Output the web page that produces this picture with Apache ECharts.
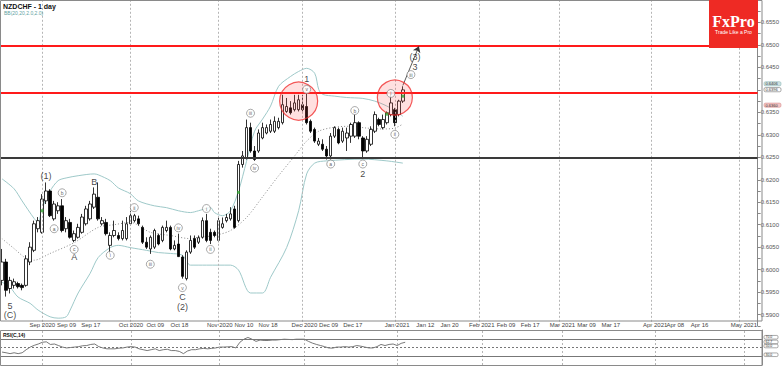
<!DOCTYPE html>
<html><head><meta charset="utf-8">
<script src="https://cdn.jsdelivr.net/npm/echarts@6/dist/echarts.min.js"></script>
<style>html,body{margin:0;padding:0;background:#fff}#c{width:782px;height:366px}</style>
</head><body><div id="c"></div>
<script>
// ---------- DATA ----------
const firstDay = '2020-08-18';
const lastDay = '2021-05-07';
const tickDates = ['2020-09-01','2020-09-09','2020-09-17','2020-10-01','2020-10-09','2020-10-19','2020-11-02','2020-11-10','2020-11-18','2020-12-01','2020-12-09','2020-12-17','2021-01-01','2021-01-12','2021-01-20','2021-02-01','2021-02-09','2021-02-17','2021-03-01','2021-03-09','2021-03-17','2021-04-01','2021-04-08','2021-04-16','2021-05-03'];
const tickTexts = ['Sep 2020','Sep 09','Sep 17','Oct 2020','Oct 09','Oct 18','Nov 2020','Nov 10','Nov 18','Dec 2020','Dec 09','Dec 17','Jan 2021','Jan 12','Jan 20','Feb 2021','Feb 09','Feb 17','Mar 2021','Mar 09','Mar 17','Apr 2021','Apr 08','Apr 16','May 2021'];
const monthStarts = ['2020-09-01','2020-10-01','2020-11-02','2020-12-01','2021-01-01','2021-02-01','2021-03-01','2021-04-01','2021-05-03'];

const opens = [0.5976,0.6017,0.5958,0.5965,0.5969,0.5965,0.5965,0.6017,0.6043,0.6091,0.6083,0.6153,0.6175,0.6113,0.6131,0.6142,0.6091,0.6105,0.6065,0.6072,0.6083,0.6102,0.6113,0.6139,0.6161,0.6102,0.6105,0.6054,0.6076,0.6076,0.6069,0.6069,
0.6102,0.6109,0.6113,0.6094,0.6061,0.6046,0.6050,0.6076,0.6065,0.6087,0.6094,0.6046,0.6057,0.6028,0.5980,0.6039,0.6069,0.6061,0.6072,0.6109,0.6083,0.6083,0.6065,0.6094,0.6109,
0.6113,0.6135,0.6109,0.6234,0.6249,0.6316,0.6264,0.6264,0.6293,0.6304,0.6308,0.6308,0.6316,0.6327,0.6352,0.6360,0.6356,0.6356,0.6367,0.6363,0.6330,0.6312,0.6279,0.6279,0.6268,0.6253,0.6297,0.6312,0.6286,0.6293,0.6297,0.6297,0.6327,0.6293,0.6264,0.6279,0.6308,0.6334,0.6316,0.6327,0.6345,0.6356,0.6345,0.6375];
const highs = [0.6046,0.6024,0.5984,0.5980,0.5973,0.5969,0.6032,0.6061,0.6109,0.6117,0.6168,0.6194,0.6179,0.6153,0.6150,0.6157,0.6117,0.6113,0.6087,0.6102,0.6124,0.6142,0.6153,0.6183,0.6194,0.6117,0.6113,0.6083,0.6109,0.6083,0.6109,0.6117,
0.6131,0.6124,0.6120,0.6098,0.6072,0.6076,0.6091,0.6080,0.6098,0.6109,0.6098,0.6065,0.6080,0.6032,0.6043,0.6076,0.6076,0.6076,0.6116,0.6124,0.6091,0.6087,0.6116,0.6116,0.6124,
0.6139,0.6142,0.6242,0.6264,0.6334,0.6327,0.6275,0.6312,0.6327,0.6323,0.6334,0.6341,0.6338,0.6389,0.6382,0.6375,0.6389,0.6389,0.6389,0.6393,0.6334,0.6316,0.6293,0.6290,0.6275,0.6304,0.6319,0.6316,0.6316,0.6316,0.6327,0.6345,0.6330,0.6297,0.6297,0.6319,0.6352,0.6338,0.6345,0.6352,0.6389,0.6360,0.6378,0.6408];
const lows = [0.5965,0.5940,0.5947,0.5958,0.5958,0.5954,0.5962,0.6010,0.6039,0.6083,0.6080,0.6146,0.6117,0.6109,0.6124,0.6083,0.6083,0.6069,0.6061,0.6069,0.6080,0.6098,0.6109,0.6135,0.6109,0.6098,0.6076,0.6035,0.6072,0.6065,0.6065,0.6065,
0.6098,0.6105,0.6098,0.6057,0.6046,0.6035,0.6046,0.6054,0.6061,0.6083,0.6043,0.6043,0.6028,0.5980,0.5976,0.6035,0.6046,0.6057,0.6069,0.6061,0.6057,0.6072,0.6061,0.6091,0.6105,
0.6109,0.6091,0.6105,0.6227,0.6245,0.6260,0.6242,0.6260,0.6290,0.6301,0.6304,0.6304,0.6312,0.6323,0.6349,0.6345,0.6352,0.6352,0.6352,0.6323,0.6304,0.6282,0.6275,0.6264,0.6245,0.6245,0.6293,0.6279,0.6282,0.6264,0.6282,0.6293,0.6290,0.6249,0.6260,0.6275,0.6304,0.6319,0.6312,0.6323,0.6341,0.6319,0.6341,0.6371];
const closes = [0.6017,0.5954,0.5976,0.5973,0.5962,0.5960,0.6024,0.6050,0.6102,0.6109,0.6157,0.6175,0.6120,0.6146,0.6142,0.6087,0.6109,0.6072,0.6080,0.6094,0.6117,0.6135,0.6146,0.6168,0.6113,0.6109,0.6080,0.6076,0.6087,0.6069,0.6087,0.6102,
0.6120,0.6120,0.6102,0.6061,0.6050,0.6072,0.6087,0.6057,0.6094,0.6094,0.6046,0.6054,0.6029,0.5985,0.6039,0.6065,0.6050,0.6071,0.6109,0.6065,0.6065,0.6076,0.6109,0.6102,0.6116,
0.6124,0.6094,0.6234,0.6253,0.6316,0.6264,0.6245,0.6304,0.6316,0.6316,0.6323,0.6330,0.6330,0.6367,0.6363,0.6349,0.6371,0.6378,0.6356,0.6327,0.6308,0.6286,0.6286,0.6268,0.6253,0.6297,0.6316,0.6282,0.6308,0.6304,0.6323,0.6327,0.6297,0.6264,0.6290,0.6312,0.6345,0.6323,0.6334,0.6349,0.6371,0.6327,0.6375,0.6400];

// Bollinger bands: [bar index, price]
const bbUpper = [[0,0.6202],[3,0.6180],[5,0.6153],[8,0.6114],[9,0.6105],[10,0.6136],[12,0.6175],[14,0.6198],[16,0.6204],[19,0.6209],[23,0.6213],[24,0.6211],[27,0.6198],[29,0.6182],[32,0.6169],[34,0.6153],[38,0.6142],[41,0.6138],[44,0.6131],[47,0.6127],[49,0.6131],[52,0.6138],[53,0.6127],[55,0.6120],[57,0.6131],[59,0.6175],[61,0.6241],[63,0.6308],[65,0.6335],[67,0.6364],[69,0.6408],[72,0.6430],[74,0.6441],[76,0.6448],[78,0.6437],[79,0.6401],[80,0.6390],[83,0.6386],[86,0.6383],[90,0.6381],[93,0.6375],[96,0.6364],[99,0.6348],[100,0.6341]];
const bbMiddle = [[0,0.6069],[3,0.6047],[6,0.6025],[8,0.6021],[12,0.6036],[18,0.6060],[24,0.6094],[28,0.6100],[32,0.6105],[37,0.6083],[42,0.6076],[47,0.6069],[49,0.6072],[53,0.6076],[57,0.6087],[61,0.6116],[65,0.6162],[69,0.6209],[73,0.6253],[76,0.6286],[79,0.6308],[83,0.6317],[87,0.6319],[91,0.6315],[95,0.6313],[98,0.6315],[100,0.6324]];
const bbLower = [[0,0.5972],[2,0.5961],[4,0.5939],[7,0.5925],[9,0.5910],[12,0.5895],[14,0.5892],[16,0.5895],[17,0.5910],[19,0.5948],[22,0.5992],[24,0.6027],[27,0.6049],[29,0.6054],[32,0.6049],[36,0.6043],[39,0.6038],[42,0.6036],[45,0.6032],[47,0.6010],[51,0.6010],[57,0.6010],[59,0.5999],[62,0.5948],[65,0.5948],[67,0.5983],[71,0.6049],[74,0.6131],[76,0.6213],[78,0.6237],[81,0.6242],[90,0.6246],[96,0.6242],[100,0.6237]];

const rsiValues = [39.6,38,36,38,36,38,45,51,55,58, 62,63,57,58,54.5,51,49,50,51,52, 54,54.5,57,58,52,49,47,47,47,48.5, 49,51,52,51,47,45,43,45,47,43, 45,46,43,43,41,36,42,45,45,47, 48,47,48,49,51,51,51.5,52,49,62, 69,73,69,64,67,66,66,67,67,68, 69,68.5,68,69,69,69,64,60,57,54.5, 52,49,48.5,51,51,52,51,52,54.5,53, 51,49,49,52,57,54.5,57,58,54.5,59.5, 62];
const rsiLevels = [70, 50, 30];

const redLevels = [0.6499, 0.6393];
const blackLevels = [0.6248];

// wave labels: [text, bar index, price]
const circledWaves = [['a',13,0.6091],['b',15,0.6171],['c',18,0.6045],['i',27,0.6032],['ii',33,0.6138],['iii',37,0.6012],['iv',44,0.6093],['v',45,0.5960],['i',51,0.6136],['ii',52,0.6045],['iii',62,0.6348],['iv',63,0.6226],['v',76,0.6401],['a',82,0.6235],['b',88,0.6354],['c',90,0.6235],['i',97,0.6392],['ii',98,0.6301],['iii',102,0.6434]];
const plainWaves = [['5',2,0.5919],['(C)',2,0.5899],['(1)',11,0.6208],['A',18,0.6027],['B',23,0.6195],['C',45,0.5938],['(2)',45,0.5917],['1',76,0.6425],['2',90,0.6213],['3',103,0.6452],['(3)',103,0.6474]];
const highlightZones = [[73.5,0.6375],[97.8,0.6383]];
const greenMarks = [[10,0.6131],[59,0.6172],[96,0.6346],[100,0.6386]];
const arrowFrom = [100,0.6410];
const arrowTo = [104,0.6497];

const priceTags = [['0.6406',0.6406,'#cfe2e2','#7fb0b0'],['0.6396',0.6396,'#ffffff','#555555'],['0.6360',0.6360,'#f3c4c4','#d08080']];
const hiddenAxisLabels = [6400];
const rsiTags = [['70.0',70],['62.7',62.7],['50.0',50],['30.0',30]];

// ---------- BUILD ----------
function weekdays(a, b) {
  const out = []; let d = new Date(a + 'T00:00:00Z'); const e = new Date(b + 'T00:00:00Z');
  while (d <= e) { const w = d.getUTCDay(); if (w !== 0 && w !== 6) out.push(d.toISOString().slice(0,10)); d = new Date(d.getTime() + 86400000); }
  return out;
}
const categories = weekdays(firstDay, lastDay);
const labelOf = {}; tickDates.forEach((d,k) => labelOf[d] = tickTexts[k]);
const showTick = (idx, val) => labelOf[val] !== undefined;
const candles = opens.map((o,i) => [o, closes[i], lows[i], highs[i]]);
const vLines = monthStarts.map(d => ({xAxis: d}));

const chart = echarts.init(document.getElementById('c'), null, {renderer:'svg', width:782, height:366});
const option = {
  animation: false,
  backgroundColor: '#ffffff',
  textStyle: {fontFamily: 'Arial, "Liberation Sans", sans-serif'},
  grid: [
    {left: 0, right: 20, top: -1.9, height: 327.7},
    {left: 0, right: 20, top: 330, height: 35}
  ],
  xAxis: [
    {type:'category', gridIndex:0, data: categories, show:false},
    {type:'category', gridIndex:1, data: categories, position:'top',
     axisLine:{show:false}, axisTick:{show:false},
     axisLabel:{interval: showTick, formatter: v => labelOf[v] || '', fontSize:6, color:'#444', margin:2},
     splitLine:{show:false}}
  ],
  yAxis: [
    {type:'value', gridIndex:0, position:'right', min:0.5875, max:0.66, interval:0.0025,
     axisLine:{show:true, lineStyle:{color:'#888'}},
     axisTick:{show:true, length:3, lineStyle:{color:'#888'}},
     axisLabel:{fontSize:6, color:'#555', margin:3, padding:[0,0,4,0], formatter: v => {
        const k = Math.round(v*10000);
        if (k % 50 !== 0 || k > 6575 || k < 5885 || hiddenAxisLabels.includes(k)) return '';
        return (k/10000).toFixed(4);
     }},
     splitLine:{show:false}},
    {type:'value', gridIndex:1, position:'right', min:10, max:90,
     axisLine:{show:true, lineStyle:{color:'#888'}}, axisTick:{show:false},
     axisLabel:{show:false}, splitLine:{show:false}}
  ],
  series: [
    {type:'line', xAxisIndex:0, yAxisIndex:0, data:[], silent:true, z:1,
     markLine:{silent:true, symbol:'none', precision:5, label:{show:false},
       lineStyle:{color:'#b5b5b5', width:1, type:[2,2]}, data: vLines}},
    {type:'line', xAxisIndex:1, yAxisIndex:1, data:[], silent:true, z:1,
     markLine:{silent:true, symbol:'none', precision:5, label:{show:false},
       lineStyle:{color:'#b5b5b5', width:1, type:[2,2]}, data: vLines}},
    {type:'line', xAxisIndex:0, yAxisIndex:0, data:[], silent:true, z:4,
     markLine:{silent:true, symbol:'none', precision:5, label:{show:false},
       data: redLevels.map(v => ({yAxis:v, lineStyle:{color:'#ff1a1a', width:2, type:'solid'}}))}},
    {type:'line', xAxisIndex:0, yAxisIndex:0, data:[], silent:true, z:4,
     markLine:{silent:true, symbol:'none', precision:5, label:{show:false},
       data: blackLevels.map(v => ({yAxis:v, lineStyle:{color:'#3a3a3a', width:2, type:'solid'}}))}},
    {name:'upper', type:'line', xAxisIndex:0, yAxisIndex:0, data: bbUpper, showSymbol:false, smooth:0.3,
     lineStyle:{color:'#9ec9c9', width:1}, z:2},
    {name:'middle', type:'line', xAxisIndex:0, yAxisIndex:0, data: bbMiddle, showSymbol:false, smooth:0.3,
     lineStyle:{color:'#8a8a8a', width:1, type:[1,2]}, z:2},
    {name:'lower', type:'line', xAxisIndex:0, yAxisIndex:0, data: bbLower, showSymbol:false, smooth:0.3,
     lineStyle:{color:'#9ec9c9', width:1}, z:2},
    {name:'NZDCHF', type:'candlestick', xAxisIndex:0, yAxisIndex:0, data: candles, barWidth:3, z:3,
     itemStyle:{color:'#ffffff', color0:'#000000', borderColor:'#000000', borderColor0:'#000000', borderWidth:0.8}},
    {type:'scatter', xAxisIndex:0, yAxisIndex:0, data: highlightZones, symbol:'circle', z:5,
     symbolSize: (v, p) => p.dataIndex === 0 ? 38 : 35, silent:true,
     itemStyle:{color:'rgba(255,80,80,0.22)', borderColor:'#f03030', borderWidth:1.2}},
    {type:'scatter', xAxisIndex:0, yAxisIndex:0, data: greenMarks, symbol:'rect', symbolSize:3, z:5,
     itemStyle:{color:'#2fa02f'}},
    {type:'line', xAxisIndex:0, yAxisIndex:0, data:[], z:5,
     markLine:{silent:true, symbol:['none','arrow'], symbolSize:6, precision:5, label:{show:false},
       lineStyle:{color:'#333', width:0.8, type:'solid'},
       data:[[{coord: arrowFrom}, {coord: arrowTo}]]}},
    {type:'scatter', xAxisIndex:0, yAxisIndex:0, z:6, symbol:'circle', symbolSize:8,
     data: circledWaves.map(w => ({name:w[0], value:[w[1], w[2]]})),
     itemStyle:{color:'#ffffff', borderColor:'#666', borderWidth:0.7},
     label:{show:true, position:'inside', formatter: p => p.name, fontSize:5, color:'#333'}},
    {type:'scatter', xAxisIndex:0, yAxisIndex:0, z:6, symbol:'circle', symbolSize:1,
     data: plainWaves.map(w => ({name:w[0], value:[w[1], w[2]]})),
     itemStyle:{color:'rgba(0,0,0,0)'},
     label:{show:true, position:'inside', formatter: p => p.name, fontSize:9, color:'#111'}},
    {name:'RSI', type:'line', xAxisIndex:1, yAxisIndex:1, data: rsiValues, showSymbol:false,
     lineStyle:{color:'#555', width:0.8}, z:3,
     markLine:{silent:true, symbol:'none', precision:3, label:{show:false},
       data: rsiLevels.map(v => ({yAxis:v, lineStyle:{color:'#777', width:1, type: v === 50 ? [2,2] : 'solid'}}))}}
  ]
};
chart.setOption(option);

// graphic overlays positioned through the axes
const g = [];
g.push({type:'rect', shape:{x:0.5, y:0.5, width:761.5, height:320.5}, style:{fill:'none', stroke:'#8a8a8a', lineWidth:1}, silent:true, z:10});
g.push({type:'rect', shape:{x:0.5, y:330.5, width:761.5, height:35}, style:{fill:'none', stroke:'#8a8a8a', lineWidth:1}, silent:true, z:10});
g.push({type:'text', style:{text:'NZDCHF - 1 day', x:3, y:6, font:'bold 7px Arial', fill:'#111', textVerticalAlign:'middle', verticalAlign:'middle'}, z:10});
g.push({type:'text', style:{text:'BB(20,20,2.0,2.0)', x:4, y:13, font:'5px Arial', fill:'#5f9f9f', textVerticalAlign:'middle', verticalAlign:'middle'}, z:10});
g.push({type:'text', style:{text:'RSI(C,14)', x:3, y:335, font:'bold 5px Arial', fill:'#111', textVerticalAlign:'middle', verticalAlign:'middle'}, z:10});
g.push({type:'rect', shape:{x:709, y:0, width:49, height:48}, style:{fill:'#ee2a24'}, z:10});
g.push({type:'text', style:{text:'FxPro', x:733.5, y:21, font:'bold 16px "Liberation Serif", "DejaVu Serif", serif', fill:'#fff', textAlign:'center', align:'center', textVerticalAlign:'middle', verticalAlign:'middle'}, z:11});
g.push({type:'text', style:{text:'Trade Like a Pro', x:733.5, y:32, font:'5px Arial', fill:'#fff', textAlign:'center', align:'center', textVerticalAlign:'middle', verticalAlign:'middle'}, z:11});
const tagShift = [-3.4, -2.0, -2.7];
priceTags.forEach((t, k) => {
  const y = chart.convertToPixel({yAxisIndex:0}, t[1]) + tagShift[k];
  g.push({type:'rect', shape:{x:764, y:y-2.1, width:17, height:4.2, r:1.5}, style:{fill:t[2], stroke:t[3], lineWidth:0.5}, z:12});
  g.push({type:'text', style:{text:t[0], x:765.5, y:y, font:'4px Arial', fill:'#333', textVerticalAlign:'middle', verticalAlign:'middle'}, z:13});
});
rsiTags.forEach((t, k) => {
  const y = chart.convertToPixel({yAxisIndex:1}, t[1]) - (k === 1 ? 0 : 1.5);
  g.push({type:'rect', shape:{x:764, y:y-1.8, width:14, height:3.6, r:1.2}, style:{fill:'#fff', stroke:'#555', lineWidth:0.5}, z:12});
  g.push({type:'text', style:{text:t[0], x:765.5, y:y, font:'3.5px Arial', fill:'#333', textVerticalAlign:'middle', verticalAlign:'middle'}, z:13});
});
chart.setOption({graphic: g});
</script>
</body></html>
